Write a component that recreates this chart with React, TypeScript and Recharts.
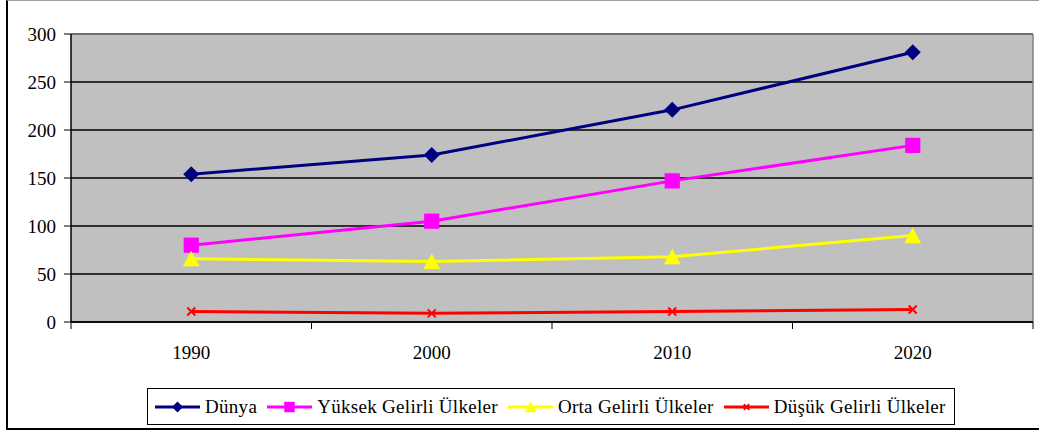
import React from 'react';
import { LineChart, Line, XAxis, YAxis, CartesianGrid } from 'recharts';

const years = ['1990', '2000', '2010', '2020'];
const dunya = [154, 174, 221, 281];
const yuksek = [80, 105, 147, 184];
const orta = [66, 63, 68, 90];
const dusuk = [11, 9, 11, 13];
const yTicks = [0, 50, 100, 150, 200, 250, 300];

const seriesNames = ['Dünya', 'Yüksek Gelirli Ülkeler', 'Orta Gelirli Ülkeler', 'Düşük Gelirli Ülkeler'];
const seriesColors = ['#000080', '#ff00ff', '#ffff00', '#ff0000'];
const seriesKeys = ['dunya', 'yuksek', 'orta', 'dusuk'];
const markers = ['diamond', 'square', 'triangle', 'cross'];

const data = years.map((y, i) => ({
  year: y,
  dunya: dunya[i],
  yuksek: yuksek[i],
  orta: orta[i],
  dusuk: dusuk[i],
}));

const FONT = '"Liberation Serif", "Times New Roman", serif';

function Marker({ kind, cx, cy, color, s }: { kind: string; cx: number; cy: number; color: string; s: number }) {
  if (kind === 'diamond') {
    return <polygon points={`${cx},${cy - s} ${cx + s},${cy} ${cx},${cy + s} ${cx - s},${cy}`} fill={color} />;
  }
  if (kind === 'square') {
    const h = s * 0.95;
    return <rect x={cx - h} y={cy - h} width={h * 2} height={h * 2} fill={color} />;
  }
  if (kind === 'triangle') {
    return <polygon points={`${cx},${cy - s} ${cx + s * 1.05},${cy + s * 0.95} ${cx - s * 1.05},${cy + s * 0.95}`} fill={color} />;
  }
  const h = s * 0.5;
  return (
    <g stroke={color} strokeWidth={2}>
      <line x1={cx - h} y1={cy - h} x2={cx + h} y2={cy + h} />
      <line x1={cx - h} y1={cy + h} x2={cx + h} y2={cy - h} />
    </g>
  );
}

const makeDot = (kind: string, color: string) => (props: any) => {
  const { cx, cy, index } = props;
  if (cx == null || cy == null) return <g key={`d${index}`} />;
  return (
    <g key={`d${kind}${index}`}>
      <Marker kind={kind} cx={cx} cy={cy} color={color} s={8} />
    </g>
  );
};

const BAND = 240.5;

const XTick = (props: any) => {
  const { x, y, payload, index } = props;
  const last = index === years.length - 1;
  return (
    <g>
      <line x1={x - BAND / 2} y1={y} x2={x - BAND / 2} y2={y + 7} stroke="#000" strokeWidth={1} />
      {last && <line x1={x + BAND / 2} y1={y} x2={x + BAND / 2} y2={y + 7} stroke="#000" strokeWidth={1} />}
      <text x={x} y={y + 37} textAnchor="middle" fontSize={19} fontFamily={FONT} fill="#000">
        {payload.value}
      </text>
    </g>
  );
};

export default function App() {
  return (
    <div
      style={{
        position: 'absolute',
        left: 6,
        top: 0,
        width: 1033,
        height: 430,
        boxSizing: 'border-box',
        borderLeft: '2px solid #000',
        borderBottom: '2px solid #000',
        borderTop: '1px solid #a0a0a0',
        background: '#fff',
      }}
    >
      <LineChart
        width={1031}
        height={427}
        data={data}
        margin={{ top: 33, right: 6, bottom: 76, left: 0 }}
      >
        <CartesianGrid fill="#c0c0c0" fillOpacity={1} stroke="#000" strokeWidth={1.5} vertical={false} />
        <CartesianGrid
          fill="none"
          stroke="#808080"
          strokeWidth={1.5}
          horizontalPoints={[33]}
          verticalPoints={[1025]}
        />
        <XAxis
          dataKey="year"
          scale="band"
          tickLine={false}
          tickSize={0}
          tickMargin={0}
          tick={<XTick />}
          axisLine={{ stroke: '#000', strokeWidth: 1.5 }}
          height={30}
          interval={0}
        />
        <YAxis
          domain={[0, 300]}
          ticks={yTicks}
          width={63}
          tickSize={7}
          tickMargin={8}
          interval={0}
          axisLine={{ stroke: '#000', strokeWidth: 1.5 }}
          tickLine={{ stroke: '#000' }}
          tick={{ fontSize: 19, fontFamily: FONT, fill: '#000' }}
        />
        {seriesKeys.map((k, i) => (
          <Line
            key={k}
            type="linear"
            dataKey={k}
            name={seriesNames[i]}
            stroke={seriesColors[i]}
            strokeWidth={3}
            dot={makeDot(markers[i], seriesColors[i])}
            activeDot={false}
            isAnimationActive={false}
          />
        ))}
      </LineChart>
      <div
        style={{
          position: 'absolute',
          left: 139,
          top: 387,
          width: 808,
          height: 37,
          boxSizing: 'border-box',
          border: '1.5px solid #000',
          display: 'flex',
          alignItems: 'center',
          paddingLeft: 7,
          fontFamily: FONT,
          fontSize: 19,
          letterSpacing: 0.3,
          color: '#000',
          whiteSpace: 'nowrap',
        }}
      >
        {seriesNames.map((n, i) => (
          <div key={n} style={{ display: 'flex', alignItems: 'center', marginRight: 10 }}>
            <svg width={45} height={16} style={{ marginRight: 5 }}>
              <line x1={0} y1={8} x2={45} y2={8} stroke={seriesColors[i]} strokeWidth={3} />
              <Marker kind={markers[i]} cx={22.5} cy={8} color={seriesColors[i]} s={5.5} />
            </svg>
            <span>{n}</span>
          </div>
        ))}
      </div>
    </div>
  );
}
